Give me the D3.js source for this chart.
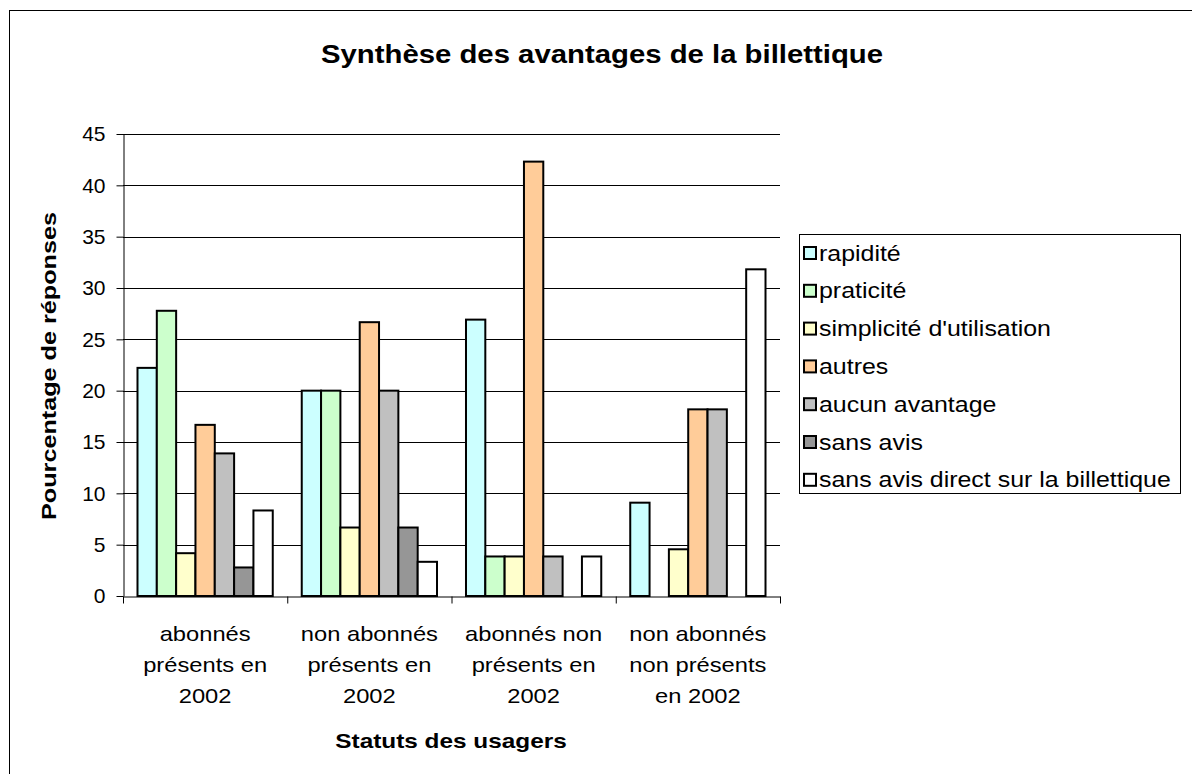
<!DOCTYPE html>
<html>
<head>
<meta charset="utf-8">
<script src="https://cdn.jsdelivr.net/npm/d3@7"></script>
<style>
  html, body { margin: 0; padding: 0; background: #fff; }
  svg { display: block; }
  text { font-family: Arial, "Liberation Sans", sans-serif; fill: #000; }
</style>
</head>
<body>
<svg id="chart" width="1192" height="774"></svg>
<script>
// Statuts des usagers (one group per status)
const categories = [
  ["abonnés", "présents en", "2002"],
  ["non abonnés", "présents en", "2002"],
  ["abonnés non", "présents en", "2002"],
  ["non abonnés", "non présents", "en 2002"]
];
const seriesNames = [
  "rapidité",
  "praticité",
  "simplicité d'utilisation",
  "autres",
  "aucun avantage",
  "sans avis",
  "sans avis direct sur la billettique"
];
const seriesColors = ["#CCFFFF", "#CCFFCC", "#FFFFCC", "#FFCC99", "#C0C0C0", "#969696", "#FFFFFF"];

// Pourcentage de réponses, one array per series, in category order
const rapidite   = [22.22, 20.0, 26.92, 9.09];
const praticite  = [27.78, 20.0, 3.85, 0];
const simplicite = [4.17, 6.67, 3.85, 4.55];
const autres     = [16.67, 26.67, 42.31, 18.18];
const aucun      = [13.89, 20.0, 3.85, 18.18];
const sansAvis   = [2.78, 6.67, 0, 0];
const sansAvisDirect = [8.33, 3.33, 3.85, 31.82];
const seriesValues = [rapidite, praticite, simplicite, autres, aucun, sansAvis, sansAvisDirect];

const yTicks = [0, 5, 10, 15, 20, 25, 30, 35, 40, 45];

const svg = d3.select("#chart");

// outer chart-area frame
svg.append("rect")
  .attr("x", 9.5).attr("y", 10.5)
  .attr("width", 1300).attr("height", 900)
  .attr("fill", "none").attr("stroke", "#000").attr("stroke-width", 1);

const plot = { left: 123, right: 780, top: 134, bottom: 596 };

const x0 = d3.scaleBand()
  .domain(d3.range(categories.length))
  .range([plot.left, plot.right])
  .paddingInner(0).paddingOuter(0);

// 150% gap between groups
const barW = x0.bandwidth() / (seriesNames.length + 1.5);
const x1 = d3.scaleBand()
  .domain(d3.range(seriesNames.length))
  .range([0, barW * seriesNames.length]);

const y = d3.scaleLinear().domain([0, 45]).range([plot.bottom, plot.top]);

// helper: text with a horizontal glyph stretch
function label(g, txt, x, yy, opts) {
  return g.append("text")
    .attr("transform", `translate(${x},${yy}) ${opts.rotate ? `rotate(${opts.rotate})` : ""} scale(${opts.sx || 1},1)`)
    .attr("text-anchor", opts.anchor || "middle")
    .attr("font-size", opts.size)
    .attr("font-weight", opts.bold ? "bold" : "normal")
    .text(txt);
}

// gridlines
svg.append("g")
  .selectAll("line")
  .data(yTicks.filter(d => d > 0))
  .join("line")
  .attr("x1", plot.left).attr("x2", plot.right)
  .attr("y1", d => Math.round(y(d)) + 0.5).attr("y2", d => Math.round(y(d)) + 0.5)
  .attr("stroke", "#000").attr("stroke-width", 1);

// bars
const groups = svg.append("g")
  .selectAll("g")
  .data(categories.map((c, i) => i))
  .join("g")
  .attr("transform", i => `translate(${x0(i) + barW * 0.75},0)`);

groups.selectAll("rect")
  .data(i => seriesValues.map((vals, s) => ({ s, v: vals[i] })).filter(d => d.v > 0))
  .join("rect")
  .attr("x", d => x1(d.s))
  .attr("y", d => y(d.v))
  .attr("width", x1.bandwidth())
  .attr("height", d => y(0) - y(d.v))
  .attr("fill", d => seriesColors[d.s])
  .attr("stroke", "#000")
  .attr("stroke-width", 2);

// y axis
const yAxis = svg.append("g")
  .attr("transform", `translate(${plot.left + 0.5},0)`)
  .call(d3.axisLeft(y).tickValues(yTicks).tickSize(7).tickPadding(11).tickSizeOuter(0));
yAxis.select(".domain").attr("stroke", "#000");
yAxis.selectAll(".tick line").attr("stroke", "#000");
yAxis.selectAll(".tick text")
  .attr("font-size", 21)
  .attr("font-family", "Arial, 'Liberation Sans', sans-serif")
  .attr("fill", "#000");

// x axis
const xAxis = svg.append("g")
  .attr("transform", `translate(0,${plot.bottom + 0.5})`)
  .call(d3.axisBottom(x0).tickValues([]).tickSizeOuter(0));
xAxis.select(".domain").attr("stroke", "#000");
xAxis.selectAll(".boundary")
  .data(d3.range(categories.length + 1))
  .join("line")
  .attr("class", "boundary")
  .attr("x1", i => (i < categories.length ? x0(i) : plot.right) + 0.5)
  .attr("x2", i => (i < categories.length ? x0(i) : plot.right) + 0.5)
  .attr("y1", 0).attr("y2", 7)
  .attr("stroke", "#000");

// category labels
const catG = svg.append("g");
categories.forEach((lines, i) => {
  const cx = x0(i) + x0.bandwidth() / 2;
  lines.forEach((ln, k) => {
    label(catG, ln, cx, 641 + k * 31, { size: 21, sx: 1.13 });
  });
});

// titles
label(svg, "Synthèse des avantages de la billettique", 602, 63, { size: 25.5, bold: true, sx: 1.15 });
label(svg, "Statuts des usagers", 451, 748, { size: 21, bold: true, sx: 1.16 });
label(svg, "Pourcentage de réponses", 56, 366, { size: 21, bold: true, rotate: -90, sx: 1.2 });

// legend
const leg = svg.append("g");
leg.append("rect")
  .attr("x", 799.5).attr("y", 234.5)
  .attr("width", 381).attr("height", 259)
  .attr("fill", "#fff").attr("stroke", "#000").attr("stroke-width", 1);
seriesNames.forEach((name, s) => {
  const cy = 253 + s * 37.8;
  leg.append("rect")
    .attr("x", 804).attr("y", cy - 6)
    .attr("width", 12).attr("height", 12)
    .attr("fill", seriesColors[s]).attr("stroke", "#000").attr("stroke-width", 2);
  label(leg, name, 819, cy + 7.5, { size: 21.5, anchor: "start", sx: 1.16 });
});
</script>
</body>
</html>
